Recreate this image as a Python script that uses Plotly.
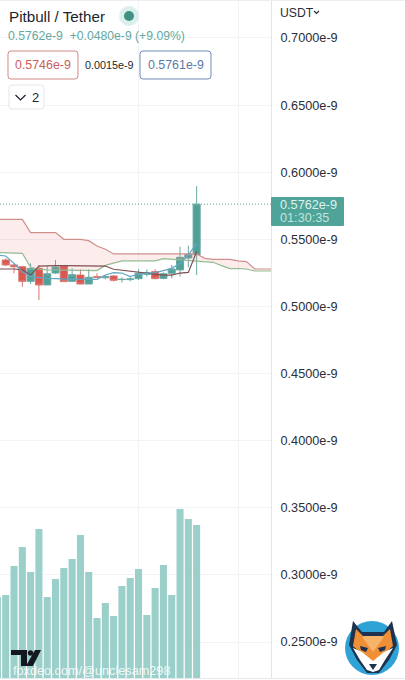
import plotly.graph_objects as go

# ---------- data (prices in units of 1e-9) ----------
candle_index = list(range(1, 25))
opens = [.5346,.5309,.5296,.5187,.5284,.5160,.5249,.5301,.5187,.5234,.5167,.5222,.5214,.5227,.5200,.5200,.5207,.5239,.5259,.5209,.5247,.5272,.5361,.5386]
highs = [.5358,.5321,.5301,.5321,.5309,.5301,.5346,.5301,.5284,.5277,.5277,.5247,.5234,.5234,.5217,.5219,.5277,.5277,.5277,.5254,.5309,.5445,.5453,.5897]
lows = [.5301,.5247,.5147,.5167,.5048,.5160,.5242,.5185,.5185,.5165,.5167,.5214,.5202,.5185,.5177,.5187,.5197,.5222,.5202,.5202,.5209,.5222,.5291,.5234]
closes = [.5309,.5296,.5187,.5284,.5160,.5244,.5294,.5185,.5237,.5167,.5217,.5217,.5222,.5195,.5202,.5205,.5247,.5252,.5207,.5244,.5279,.5366,.5388,.5762]

volume_index = list(range(0, 25))
volumes = [81,83,112,131,106,149,81,99,110,119,143,106,60,75,62,92,100,109,63,90,113,83,169,159,153]

span_index = list(range(0, 34))
span_red = [.5649,.5649,.5649,.5649,.5550,.5550,.5550,.5550,.5500,.5500,.5500,.5490,.5450,.5426,.5391,.5391,.5391,.5391,.5391,.5391,.5391,.5391,.5391,.5391,.5391,.5358,.5351,.5351,.5351,.5339,.5334,.5279,.5279,.5279]
span_green = [.5401,.5401,.5401,.5396,.5291,.5277,.5272,.5272,.5272,.5272,.5272,.5272,.5267,.5306,.5321,.5339,.5339,.5339,.5339,.5339,.5356,.5351,.5346,.5344,.5339,.5331,.5329,.5304,.5282,.5282,.5279,.5264,.5264,.5264]
base_index = list(range(0, 25))
base_line = [.5279,.5279,.5279,.5272,.5234,.5301,.5304,.5304,.5304,.5304,.5304,.5304,.5304,.5301,.5277,.5269,.5264,.5254,.5247,.5239,.5234,.5234,.5249,.5254,.5408]
conv_line = [.5383,.5376,.5321,.5259,.5222,.5214,.5209,.5207,.5202,.5202,.5202,.5202,.5202,.5234,.5252,.5249,.5222,.5242,.5247,.5252,.5267,.5284,.5321,.5383,.5470]

last_price = 0.5762
tick_vals = [0.70,0.65,0.60,0.55,0.50,0.45,0.40,0.35,0.30,0.25]
tick_text = ["0.7000e-9","0.6500e-9","0.6000e-9","0.5500e-9","0.5000e-9","0.4500e-9","0.4000e-9","0.3500e-9","0.3000e-9","0.2500e-9"]

# ---------- layout helpers ----------
W, H = 405, 680
PW, PH = 271, 678
FONT = "Liberation Sans"
def fx(px): return px / PW
def fy(py): return 1 - py / PH

shapes, annots = [], []
def text(px, py, s, size=12.7, color="#131722", anchor="left"):
    annots.append(dict(xref="paper", yref="paper", x=fx(px), y=fy(py), text=s, showarrow=False,
                       xanchor=anchor, yanchor="middle", align=anchor,
                       font=dict(family=FONT, size=size, color=color), borderpad=0, borderwidth=0))
def path(points, fill=None, line=None, lw=1, close=True):
    d = "M" + " L".join(f"{fx(x):.5f},{fy(y):.5f}" for x, y in points) + (" Z" if close else "")
    shapes.append(dict(type="path", xref="paper", yref="paper", path=d, fillcolor=fill or "rgba(0,0,0,0)",
                       line=dict(color=line or "rgba(0,0,0,0)", width=lw if line else 0), layer="above"))
def rrect(x0, y0, x1, y1, r, fill=None, line=None, lw=1):
    a, b = fx, fy
    d = (f"M{a(x0+r):.5f},{b(y0):.5f} L{a(x1-r):.5f},{b(y0):.5f} Q{a(x1):.5f},{b(y0):.5f} {a(x1):.5f},{b(y0+r):.5f} "
         f"L{a(x1):.5f},{b(y1-r):.5f} Q{a(x1):.5f},{b(y1):.5f} {a(x1-r):.5f},{b(y1):.5f} "
         f"L{a(x0+r):.5f},{b(y1):.5f} Q{a(x0):.5f},{b(y1):.5f} {a(x0):.5f},{b(y1-r):.5f} "
         f"L{a(x0):.5f},{b(y0+r):.5f} Q{a(x0):.5f},{b(y0):.5f} {a(x0+r):.5f},{b(y0):.5f} Z")
    shapes.append(dict(type="path", xref="paper", yref="paper", path=d, fillcolor=fill or "rgba(0,0,0,0)",
                       line=dict(color=line or "rgba(0,0,0,0)", width=lw if line else 0), layer="above"))
def circle(cx, cy, r, fill):
    shapes.append(dict(type="circle", xref="paper", yref="paper", x0=fx(cx-r), x1=fx(cx+r), y0=fy(cy+r), y1=fy(cy-r),
                       fillcolor=fill, line=dict(width=0), layer="above"))

fig = go.Figure()
fig.add_bar(x=volume_index, y=volumes, width=0.85, marker=dict(color="#9bcfca", line=dict(width=0)), yaxis="y", showlegend=False)
fig.add_scatter(x=span_index, y=span_green, mode="lines", line=dict(color="#93bd92", width=1.2), yaxis="y2", showlegend=False)
fig.add_scatter(x=span_index, y=span_red, mode="lines", line=dict(color="#cf8f8b", width=1.2), fill="tonexty",
                fillcolor="rgba(240,120,120,0.14)", yaxis="y2", showlegend=False)
fig.add_scatter(x=base_index, y=base_line, mode="lines", line=dict(color="#7d4f52", width=1.2), yaxis="y2", showlegend=False)
fig.add_scatter(x=base_index, y=conv_line, mode="lines", line=dict(color="#62a6c4", width=1.2), yaxis="y2", showlegend=False)
fig.add_candlestick(x=candle_index, open=opens, high=highs, low=lows, close=closes, yaxis="y2", whiskerwidth=0,
                    increasing=dict(line=dict(color="#6aa8a4", width=1), fillcolor="#4fa198"),
                    decreasing=dict(line=dict(color="#d8756f", width=1), fillcolor="#d9574f"), showlegend=False)
fig.add_scatter(x=[0.31, 32.96], y=[last_price, last_price], mode="lines", line=dict(color="#5a9f96", width=1, dash="1px,2px"),
                yaxis="y2", showlegend=False)

# header
text(9, 16.5, "Pitbull / Tether", 15.2, "#1b1f2b")
circle(129, 16, 10, "#dcefed")
circle(129, 16, 5, "#3f9183")
text(8, 36.5, "0.5762e-9  +0.0480e-9 (+9.09%)", 12.2, "#62a99e")
rrect(8, 51, 78, 79, 3, fill="#ffffff", line="#d08a86")
text(42.5, 65, "0.5746e-9", 12.4, "#c9605b", "center")
text(109, 65, "0.0015e-9", 10.8, "#1b1f2b", "center")
rrect(140, 51, 211, 79, 3, fill="#ffffff", line="#6f8db8")
text(175.5, 65, "0.5761e-9", 12.4, "#5a79ab", "center")
rrect(9, 85, 44, 109, 3, fill="#ffffff", line="#e3e6ec")
path([(15.5, 95), (20.5, 100), (25.5, 95)], line="#1b1f2b", lw=1.2, close=False)
text(32, 97.5, "2", 13, "#1b1f2b")

# right axis labels
text(280, 12.5, "USDT", 12.2, "#2a2e39")
path([(314, 11), (316.5, 13.5), (319, 11)], line="#2a2e39", lw=1.2, close=False)
rrect(271, 197, 344, 226, 1, fill="#4fa398")
text(280, 205, "0.5762e-9", 12.7, "#dff3f0")
text(280, 218, "01:30:35", 12.7, "#bfe5df")

# TradingView mark and watermark
path([(11, 650), (27, 650), (27, 666), (21, 666), (21, 655), (11, 655)], fill="#131722")
circle(30.5, 653, 2.7, "#131722")
path([(35, 650), (41, 650), (33, 666), (26, 666)], fill="#131722")
text(13, 671, "foxdeo.com/@unclesam298", 12.7, "rgba(255,255,255,0.85)")

# fox logo
circle(372, 648, 27, "#2fa3d6")
path([(353,621),(362,632),(384,632),(392,621),(397,645),(389,660),(379,673),(367,673),(357,660),(349,645)], fill="#1d3350")
path([(356,629),(364,637),(382,637),(390,629),(393,646),(384,654),(373,664),(362,654),(353,646)], fill="#ef8f36")
path([(362,637),(373,652),(384,637),(382,636),(364,636)], fill="#f6b36a")
path([(353,648),(362,652),(373,661),(384,652),(393,648),(385,660),(379,670),(373,672),(367,670),(360,660)], fill="#ffffff")
path([(360,646),(368,648),(366,652),(361,650)], fill="#1d3350")
path([(386,646),(378,648),(380,652),(385,650)], fill="#1d3350")
path([(369,664),(377,664),(373,670)], fill="#1d3350")

# edges
shapes.append(dict(type="line", xref="paper", yref="paper", x0=0, x1=fx(W), y0=fy(678.5), y1=fy(678.5), line=dict(color="#e6e8ee", width=1), layer="above"))
shapes.append(dict(type="line", xref="paper", yref="paper", x0=0, x1=fx(W), y0=fy(0.5), y1=fy(0.5), line=dict(color="#eceef2", width=1), layer="above"))

GRID = "#f2f3f7"
fig.update_layout(
    width=W, height=H, margin=dict(l=0, r=W-PW, t=0, b=H-PH),
    paper_bgcolor="#ffffff", plot_bgcolor="#ffffff", showlegend=False,
    boxmode="overlay", boxgap=0.15, boxgroupgap=0,
    font=dict(family=FONT, size=12.7, color="#2a2e39"), shapes=shapes, annotations=annots,
    xaxis=dict(range=[0.31, 32.96], tickvals=[17, 29], showticklabels=False, ticks="", showgrid=True, gridcolor=GRID,
               zeroline=False, rangeslider=dict(visible=False), fixedrange=True, showline=False),
    yaxis=dict(range=[0, 678], showgrid=False, showticklabels=False, ticks="", zeroline=False, fixedrange=True),
    yaxis2=dict(range=[0.2232, 0.7283], overlaying="y", side="right", anchor="x", tickmode="array", tickvals=tick_vals,
                ticktext=tick_text, showgrid=True, gridcolor=GRID, zeroline=False, ticks="outside", ticklen=6,
                tickcolor="rgba(0,0,0,0)", showline=True, linecolor="#e3e5ea", linewidth=1,
                tickfont=dict(family=FONT, size=12.7, color="#2a2e39"), fixedrange=True),
)
fig.write_html("out.html", config=dict(displayModeBar=False),
               post_script="document.body.style.margin='0';document.body.style.overflow='hidden';")
